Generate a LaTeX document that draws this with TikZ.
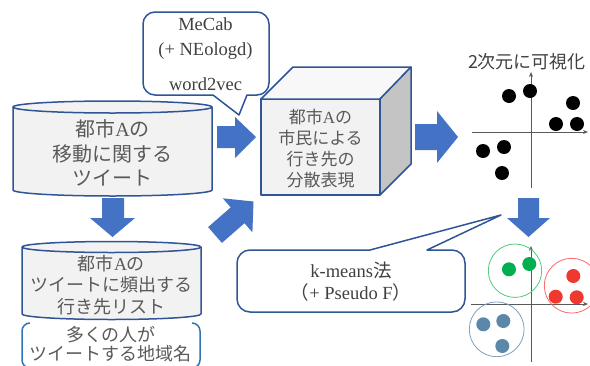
\documentclass[tikz,border=0pt]{standalone}
\usepackage{fontspec}
\setmainfont{Liberation Serif}
\newfontfamily\jp{Noto Sans CJK JP}
\usetikzlibrary{arrows.meta}
\definecolor{bord}{HTML}{2F5597}
\definecolor{arr}{HTML}{4472C4}
\definecolor{boxfill}{HTML}{F2F2F2}
\definecolor{topfill}{HTML}{F8F8F8}
\definecolor{sidefill}{HTML}{C4C4C4}
\definecolor{txt}{HTML}{595959}
\definecolor{ctxt}{HTML}{404040}
\definecolor{brk}{HTML}{2E75B6}
\definecolor{axisgray}{HTML}{595959}
\definecolor{gdot}{HTML}{00B050}
\definecolor{gring}{HTML}{4FCB7E}
\definecolor{rdot}{HTML}{EE3A2E}
\definecolor{rring}{HTML}{F56A6A}
\definecolor{bdot}{HTML}{5B87A8}
\definecolor{bring}{HTML}{7F9FBD}
\begin{document}
\begin{tikzpicture}[x=1pt,y=-1pt,
  outline/.style={draw=bord, line width=1.5pt, fill=boxfill, line join=round},
  blockarrow/.style={fill=arr},
  jptext/.style={text=txt, align=center, inner sep=0pt},
  ctext/.style={text=ctxt, inner sep=0pt, anchor=base},
  axisline/.style={draw=axisgray, line width=0.7pt, -{Stealth[length=5pt,width=4pt]}},
  bigdot/.style={fill=black},
]
\useasboundingbox (0,0) rectangle (590,365);
\clip (0,0) rectangle (590,365);

% ---- Cylinder 1
\path[outline] (13,107) -- (13,190) arc[start angle=180,end angle=360,x radius=99.5pt,y radius=6pt]
  -- (212,107) arc[start angle=0,end angle=180,x radius=99.5pt,y radius=6pt] -- cycle;
\draw[bord, line width=1.5pt] (13,107) arc[start angle=180,end angle=360,x radius=99.5pt,y radius=6pt];
\node[jptext, font=\jp\fontsize{20}{24.5}\selectfont] (cyltext) at (112.5,153)
  {都市{\rmfamily A}の\\移動に関する\\ツイート};

% ---- Cylinder 2
\path[outline] (22,247) -- (22,314) arc[start angle=180,end angle=360,x radius=89.5pt,y radius=5.5pt]
  -- (201,247) arc[start angle=0,end angle=180,x radius=89.5pt,y radius=5.5pt] -- cycle;
\draw[bord, line width=1.5pt] (22,247) arc[start angle=180,end angle=360,x radius=89.5pt,y radius=5.5pt];
\node[jptext, font=\jp\fontsize{18}{21.5}\selectfont] (listtext) at (111.5,285)
  {都市{\rmfamily A}の\\ツイートに頻出する\\行き先リスト};

% ---- Bracket pair
\draw[brk, line width=1.5pt] (30,323) arc[start angle=90,end angle=180,radius=8pt] -- (22,360)
  arc[start angle=180,end angle=270,radius=8pt];
\draw[brk, line width=1.5pt] (192,323) arc[start angle=90,end angle=0,radius=8pt] -- (200,360)
  arc[start angle=0,end angle=-90,radius=8pt];
\node[jptext, font=\jp\fontsize{18}{19.5}\selectfont] (brktext) at (111,344)
  {多くの人が\\ツイートする地域名};

% ---- Callout 1
\path[draw=bord, line width=1.5pt, fill=white, line join=round]
  (155,12) -- (257,12) arc[start angle=90,end angle=0,radius=12pt] -- (269,83)
  arc[start angle=0,end angle=-90,radius=12pt] -- (247,95) -- (239,115) -- (213,95) -- (155,95)
  arc[start angle=270,end angle=180,radius=12pt] -- (143,24)
  arc[start angle=180,end angle=90,radius=12pt] -- cycle;
\node[ctext, font=\fontsize{18.5}{22}\selectfont] (mecab) at (205.5,30) {MeCab};
\node[ctext, font=\fontsize{18.5}{22}\selectfont] (neo) at (205.5,55) {(+ NEologd)};
\node[ctext, font=\fontsize{18.5}{22}\selectfont] (w2v) at (205.5,90) {word2vec};

% ---- Cube
\path[outline] (261,99) rectangle (380,195);
\path[outline, fill=topfill] (261,99) -- (293,67) -- (411,67) -- (380,99) -- cycle;
\path[outline, fill=sidefill] (380,99) -- (411,67) -- (411,164) -- (380,195) -- cycle;
\node[jptext, font=\jp\fontsize{17}{21}\selectfont] (cubetext) at (320.5,149)
  {都市{\rmfamily A}の\\市民による\\行き先の\\分散表現};

% ---- Block arrows
\fill[blockarrow] (217,126) -- (235,126) -- (235,117) -- (256,137) -- (235,158) -- (235,148) -- (217,148) -- cycle;
\fill[blockarrow] (415,124) -- (437,124) -- (437,111) -- (458,137) -- (437,163) -- (437,150) -- (415,150) -- cycle;
\fill[blockarrow] (102,198) -- (124,198) -- (124,218) -- (135,218) -- (112.5,237) -- (90,218) -- (102,218) -- cycle;
\fill[blockarrow] (518,198) -- (539,198) -- (539,218) -- (550,218) -- (528.5,237) -- (507,218) -- (518,218) -- cycle;
\fill[blockarrow] (221.9,242.9) -- (244.5,223.2) -- (252.4,232.3) -- (253.5,201.5) -- (222.8,198.3)
  -- (230.7,207.4) -- (208.1,227.1) -- cycle;

% ---- Scatter 1
\node[text=ctxt, inner sep=0pt, font=\jp\fontsize{18}{20}\selectfont] (vis) at (527,62) {2次元に可視化};
\coordinate (h1a) at (472,132); \coordinate (h1b) at (588,132);
\coordinate (v1a) at (531,188); \coordinate (v1b) at (531,72);
\draw[axisline] (h1a) -- (h1b);
\draw[axisline] (v1a) -- (v1b);
\foreach \p in {(509,96),(530,91),(573,103),(556,124),(577,124),(483,151),(504,147),(502,173)}
  \fill[bigdot] \p circle[radius=7pt];

% ---- Callout 2
\path[draw=bord, line width=1.5pt, fill=white, line join=round]
  (250,250) -- (370,250) -- (501,215) -- (427,250) -- (452,250)
  arc[start angle=90,end angle=0,radius=13pt] -- (465,299)
  arc[start angle=0,end angle=-90,radius=13pt] -- (250,312)
  arc[start angle=270,end angle=180,radius=13pt] -- (237,263)
  arc[start angle=180,end angle=90,radius=13pt] -- cycle;
\node[ctext, font=\fontsize{18.5}{22}\selectfont] (kmeans) at (351,277) {k-means{\jp 法}};
\node[ctext, font=\fontsize{18.5}{22}\selectfont] (pseudo) at (351,299) {{\jp （}+ Pseudo F{\jp ）}};

% ---- Scatter 2
\coordinate (h2a) at (471,304); \coordinate (h2b) at (588,304);
\coordinate (v2a) at (531,362); \coordinate (v2b) at (531,246);
\draw[axisline] (h2a) -- (h2b);
\draw[axisline] (v2a) -- (v2b);
\draw[gring, line width=0.8pt] (515,270.7) circle[radius=26.7pt];
\draw[rring, line width=0.8pt] (571.7,285.7) circle[radius=27.4pt];
\draw[bring, line width=0.8pt] (496.7,329.3) circle[radius=27.4pt];
\foreach \p in {(509,269.3),(529.3,264)} \fill[gdot] \p circle[radius=7pt];
\foreach \p in {(573.3,276),(555.7,296.7),(576.7,297.3)} \fill[rdot] \p circle[radius=7pt];
\foreach \p in {(483.3,324.3),(503.3,321),(502.3,346)} \fill[bdot] \p circle[radius=7pt];
\end{tikzpicture}
\end{document}
